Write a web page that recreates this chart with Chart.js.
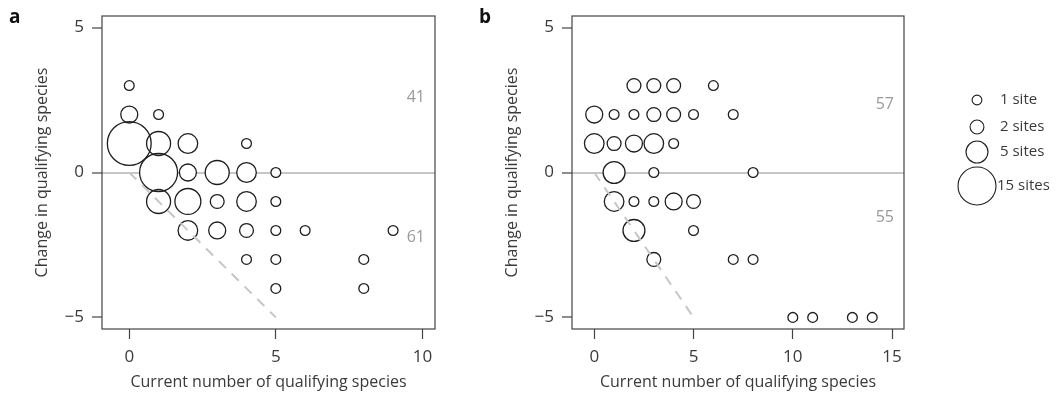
<!DOCTYPE html>
<html>
<head>
<meta charset="utf-8">
<title>Change in qualifying species</title>
<script src="https://cdn.jsdelivr.net/npm/chart.js@4.4.1/dist/chart.umd.min.js"></script>
<style>
    html, body { margin: 0; padding: 0; background: #fff; }
    body { width: 1057px; height: 394px; position: relative; overflow: hidden; }
    canvas { position: absolute; top: 0; }
    #chartA { left: 0; }
    #chartB { left: 470px; }
</style>
</head>
<body>
<canvas id="chartA" width="470" height="394"></canvas>
<canvas id="chartB" width="587" height="394"></canvas>
<script>
// ==========================================
// DATA
// ==========================================

const yTicks = [-5, 0, 5];
const aXTicks = [0, 5, 10];
const bXTicks = [0, 5, 10, 15];

// panel a : current number, change, number of sites
const aCurrent = [0, 0, 1, 0, 1, 2, 4, 1, 2, 3, 4, 5, 1, 2, 3, 4, 5, 2, 3, 4, 5, 6, 9, 4, 5, 8, 5, 8];
const aChange  = [3, 2, 2, 1, 1, 1, 1, 0, 0, 0, 0, 0, -1, -1, -1, -1, -1, -2, -2, -2, -2, -2, -2, -3, -3, -3, -4, -4];
const aSites   = [1, 3, 1, 20, 6, 4, 1, 15, 3, 6, 4, 1, 6, 7, 2, 4, 1, 4, 3, 2, 1, 1, 1, 1, 1, 1, 1, 1];

// panel b
const bCurrent = [2, 3, 4, 6, 0, 1, 2, 3, 4, 5, 7, 0, 1, 2, 3, 4, 1, 3, 8, 1, 2, 3, 4, 5, 2, 5, 3, 7, 8, 10, 11, 13, 14];
const bChange  = [3, 3, 3, 3, 2, 2, 2, 2, 2, 2, 2, 1, 1, 1, 1, 1, 0, 0, 0, -1, -1, -1, -1, -1, -2, -2, -3, -3, -3, -5, -5, -5, -5];
const bSites   = [2, 2, 2, 1, 3, 1, 1, 2, 2, 1, 1, 4, 2, 3, 4, 1, 5, 1, 1, 4, 1, 1, 3, 2, 5, 1, 2, 1, 1, 1, 1, 1, 1];

// dashed guide (change = -current)
const guideCurrent = [0, 5];
const guideChange = [0, -5];

// site totals above / below zero
const aCounts = ["41", "61"];
const bCounts = ["57", "55"];

const legendSites = [1, 2, 5, 15];
const legendLabels = ["1 site", "2 sites", "5 sites", "15 sites"];

// ==========================================
// HELPERS
// ==========================================

const FONT = "'Open Sans', 'DejaVu Sans', sans-serif";
const TEXT = "#3a3a3a";
const GREY = "#c6c6c6";

function siteRadius(n) {
    return 4.9 * Math.sqrt(n);
}

function toPoints(xs, ys, ns) {
    return xs.map((x, i) => ({ x: x, y: ys[i], sites: ns ? ns[i] : 0 }));
}

function makeScales(xMin, xMax, xTicks) {
    return {
        x: {
            type: "linear",
            min: xMin,
            max: xMax,
            afterBuildTicks: s => { s.ticks = xTicks.map(v => ({ value: v })); },
            afterFit: s => { s.height = 65; s.paddingLeft = 0; s.paddingRight = 0; },
            grid: { drawOnChartArea: false, drawTicks: true, tickLength: 10, tickColor: "#444", tickWidth: 1.2 },
            border: { display: false },
            ticks: { color: TEXT, font: { family: FONT, size: 17 }, padding: 8, maxRotation: 0, autoSkip: false },
            title: {
                display: true,
                text: "Current number of qualifying species",
                color: TEXT,
                font: { family: FONT, size: 16 },
                padding: { top: 0, bottom: 2 }
            }
        },
        y: {
            type: "linear",
            min: -5.4,
            max: 5.4,
            afterBuildTicks: s => { s.ticks = yTicks.map(v => ({ value: v })); },
            afterFit: s => { s.width = 102; s.paddingTop = 0; s.paddingBottom = 0; },
            grid: {
                color: ctx => (ctx.tick && ctx.tick.value === 0) ? GREY : "rgba(0,0,0,0)",
                lineWidth: 2,
                drawTicks: true,
                tickLength: 10,
                tickColor: "#444",
                tickWidth: 1.2
            },
            border: { display: false },
            ticks: {
                color: TEXT,
                font: { family: FONT, size: 17 },
                padding: 8,
                callback: v => (v < 0 ? "\u2212" + Math.abs(v) : String(v))
            },
            title: {
                display: true,
                text: "Change in qualifying species",
                color: TEXT,
                font: { family: FONT, size: 16 },
                padding: { top: 33, bottom: 0 }
            }
        }
    };
}

function makeDatasets(xs, ys, ns) {
    const pts = toPoints(xs, ys, ns);
    return [
        {
            type: "line",
            data: toPoints(guideCurrent, guideChange),
            borderColor: GREY,
            borderWidth: 2,
            borderDash: [10, 8],
            pointRadius: 0,
            fill: false
        },
        {
            data: pts,
            radius: ctx => siteRadius(ctx.raw.sites),
            backgroundColor: "rgba(0,0,0,0)",
            borderColor: "#1e1e1e",
            borderWidth: 1.3
        },
        {
            data: pts,
            radius: ctx => siteRadius(ctx.raw.sites),
            backgroundColor: "#ffffff",
            borderWidth: 0
        }
    ];
}

// box, panel letter, totals and legend
const decorPlugin = {
    id: "decor",
    afterDraw(chart, args, opts) {
        const ctx = chart.ctx;
        const area = chart.chartArea;
        const y = chart.scales.y;

        ctx.save();
        ctx.strokeStyle = "#444";
        ctx.lineWidth = 1.2;
        ctx.strokeRect(area.left, area.top, area.right - area.left, area.bottom - area.top);

        ctx.fillStyle = "#111";
        ctx.font = "bold 19px " + FONT;
        ctx.textAlign = "left";
        ctx.textBaseline = "alphabetic";
        ctx.fillText(opts.letter, 9, 23);

        ctx.fillStyle = "#9a9a9a";
        ctx.font = "16px " + FONT;
        ctx.textAlign = "right";
        ctx.textBaseline = "middle";
        ctx.fillText(opts.counts[0], area.right - 10, y.getPixelForValue(opts.countY[0]));
        ctx.fillText(opts.counts[1], area.right - 10, y.getPixelForValue(opts.countY[1]));

        if (opts.legend) {
            const cx = area.right + 73;
            const rows = [100, 127, 152, 186];
            ctx.strokeStyle = "#1e1e1e";
            ctx.lineWidth = 1.1;
            ctx.fillStyle = TEXT;
            ctx.font = "15px " + FONT;
            ctx.textAlign = "left";
            legendSites.forEach((n, i) => {
                ctx.beginPath();
                ctx.arc(cx, rows[i], siteRadius(n), 0, Math.PI * 2);
                ctx.stroke();
                ctx.fillText(legendLabels[i], i === 3 ? cx + 20 : cx + 23, rows[i]);
            });
        }
        ctx.restore();
    }
};

function makeChart(id, xs, ys, ns, xMin, xMax, xTicks, extra) {
    return new Chart(document.getElementById(id), {
        type: "bubble",
        data: { datasets: makeDatasets(xs, ys, ns) },
        options: {
            responsive: false,
            animation: false,
            events: [],
            layout: { autoPadding: false, padding: extra.padding },
            scales: makeScales(xMin, xMax, xTicks),
            plugins: {
                legend: { display: false },
                tooltip: { enabled: false },
                decor: extra.decor
            }
        },
        plugins: [decorPlugin]
    });
}

// ==========================================
// CHARTS
// ==========================================

makeChart("chartA", aCurrent, aChange, aSites, -0.93, 10.43, aXTicks, {
    padding: { top: 16, right: 35, left: 0, bottom: 0 },
    decor: { letter: "a", counts: aCounts, countY: [2.6, -2.25], legend: false }
});

makeChart("chartB", bCurrent, bChange, bSites, -1.12, 15.6, bXTicks, {
    padding: { top: 16, right: 153, left: 0, bottom: 0 },
    decor: { letter: "b", counts: bCounts, countY: [2.35, -1.55], legend: true }
});
</script>
</body>
</html>
